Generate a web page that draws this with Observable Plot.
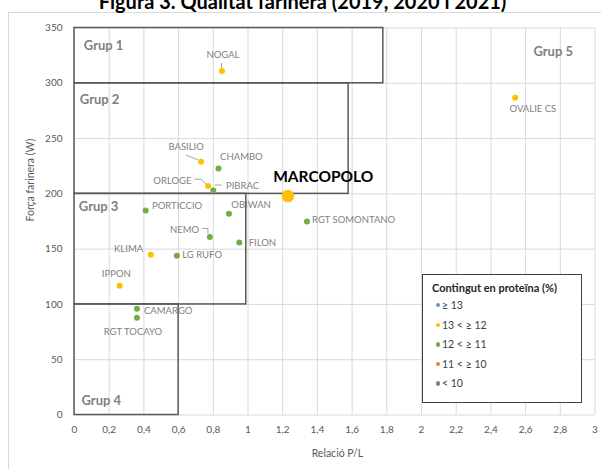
<!DOCTYPE html>
<html>
<head>
<meta charset="utf-8">
<script src="https://cdn.jsdelivr.net/npm/d3@7"></script>
<script src="https://cdn.jsdelivr.net/npm/@observablehq/plot@0.6"></script>
<style>
  html, body { margin: 0; padding: 0; background: #fff; }
  #wrap { position: relative; width: 601px; height: 469px; overflow: hidden; font-family: Lato, "Open Sans", sans-serif; }
  #frame { position: absolute; left: 8px; top: 12px; right: -2px; bottom: -2px; border-left: 1px solid #d9d9d9; border-top: 1px solid #d9d9d9; }
  #title { position: absolute; left: 2px; width: 601px; top: -9.5px; text-align: center; font-size: 20px; line-height: 20px; font-weight: bold; color: #000; white-space: nowrap; }
  #chart { position: absolute; left: 0; top: 0; }
  #legend { position: absolute; left: 422px; top: 274px; width: 158px; height: 127px; border: 1.5px solid #404040; background: #fff; color: #404040; }
  #legend .lt { position: absolute; left: 9px; top: 6px; font-size: 11px; font-weight: bold; white-space: nowrap; color: #262626; }
  #legend .it { position: absolute; left: 19px; font-size: 10.5px; line-height: 12px; white-space: nowrap; }
  #legend .dot { position: absolute; left: -6.5px; top: 4px; width: 4.4px; height: 4.4px; border-radius: 50%; }
</style>
</head>
<body>
<div id="wrap">
  <div id="frame"></div>
  <div id="chart"></div>
  <div id="title">Figura 3. Qualitat farinera (2019, 2020 i 2021)</div>
  <div id="legend"></div>
</div>
<script>
// ---------- data ----------
const varieties = ["NOGAL", "BASILIO", "CHAMBO", "ORLOGE", "PIBRAC", "MARCOPOLO", "PORTICCIO", "OBIWAN", "RGT SOMONTANO", "NEMO", "FILON", "KLIMA", "LG RUFO", "IPPON", "CAMARGO", "RGT TOCAYO", "OVALIE CS"];
const plValues = [0.85, 0.73, 0.83, 0.77, 0.80, 1.23, 0.41, 0.89, 1.34, 0.78, 0.95, 0.44, 0.59, 0.26, 0.36, 0.36, 2.54];
const wValues = [311, 229, 223, 207, 203, 198, 185, 182, 175, 161, 156, 145, 144, 117, 96, 88, 287];
const proteinOf = ["13 < ≥ 12", "13 < ≥ 12", "12 < ≥ 11", "13 < ≥ 12", "12 < ≥ 11", "13 < ≥ 12", "12 < ≥ 11", "12 < ≥ 11", "12 < ≥ 11", "12 < ≥ 11", "12 < ≥ 11", "13 < ≥ 12", "12 < ≥ 11", "13 < ≥ 12", "12 < ≥ 11", "12 < ≥ 11", "13 < ≥ 12"];
const highlighted = "MARCOPOLO";

const proteinCats = ["≥ 13", "13 < ≥ 12", "12 < ≥ 11", "11 < ≥ 10", "< 10"];
const proteinColors = ["#5B9BD5", "#FFC000", "#70AD47", "#ED7D31", "#808080"];

const groupNames = ["Grup 1", "Grup 2", "Grup 3", "Grup 4"];
const groupX1 = [0, 0, 0, 0];
const groupX2 = [1.78, 1.58, 0.99, 0.6];
const groupY1 = [300, 200, 100, 0];
const groupY2 = [350, 300, 200, 100];
const extraGroup = "Grup 5";

const xTicks = [0, 0.2, 0.4, 0.6, 0.8, 1, 1.2, 1.4, 1.6, 1.8, 2, 2.2, 2.4, 2.6, 2.8, 3];
const xTickLabels = ["0", "0,2", "0,4", "0,6", "0,8", "1", "1,2", "1,4", "1,6", "1,8", "2", "2,2", "2,4", "2,6", "2,8", "3"];
const yTicks = [0, 50, 100, 150, 200, 250, 300, 350];
const yTickLabels = ["0", "50", "100", "150", "200", "250", "300", "350"];
const xTitle = "Relació P/L";
const yTitle = "Força farinera (W)";
const legendTitle = "Contingut en proteïna (%)";

// ---------- layout (pixel offsets of labels / leader lines) ----------
const labelLayout = {
  "NOGAL": [1, -16, "middle"],
  "BASILIO": [-15, -14.6, "middle"],
  "CHAMBO": [1.6, -11.6, "start"],
  "ORLOGE": [-16.6, -5.4, "end"],
  "PIBRAC": [12.7, -4.4, "start"],
  "MARCOPOLO": [-14.7, -18.6, "start"],
  "PORTICCIO": [6.4, -4, "start"],
  "OBIWAN": [2.4, -8.7, "start"],
  "RGT SOMONTANO": [5, -1.3, "start"],
  "NEMO": [-10.7, -6.7, "end"],
  "FILON": [9.3, 0.4, "start"],
  "KLIMA": [-7.7, -5.7, "end"],
  "LG RUFO": [5.4, -0.7, "start"],
  "IPPON": [-3.3, -12, "middle"],
  "CAMARGO": [7, 1.7, "start"],
  "RGT TOCAYO": [-4, 14.3, "middle"],
  "OVALIE CS": [17.7, 11.6, "middle"]
};
const leaderLayout = {
  "NOGAL": [[0, -7.5], [0, -2.5]],
  "BASILIO": [[-14.6, -6.3], [-2.5, -1.3]],
  "ORLOGE": [[-13.3, -6.4], [-6.6, -6.4], [-1, -1]],
  "PIBRAC": [[2, -5], [8.7, -5]],
  "NEMO": [[-7, -8], [-1.4, -8], [-1.4, -2.5]]
};
const groupLayout = [[9.3, 17.5], [5.3, 16.2], [4.3, 12.6], [7, -14.5]];

// ---------- build ----------
const points = varieties.map((name, i) => ({name, pl: plValues[i], w: wValues[i], protein: proteinOf[i]}));
const groups = groupNames.map((name, i) => ({name, x1: groupX1[i], x2: groupX2[i], y1: groupY1[i], y2: groupY2[i]}));
const fmtX = d => xTickLabels[xTicks.findIndex(t => Math.abs(t - d) < 1e-9)] ?? String(d);
const fmtY = d => yTickLabels[yTicks.indexOf(d)] ?? String(d);

const labelMarks = points.map(p => {
  const [dx, dy, anchor] = labelLayout[p.name];
  const hi = p.name === highlighted;
  return Plot.text([p], {
    x: "pl", y: "w", text: "name", dx, dy, textAnchor: anchor,
    fill: hi ? "#000" : "#7f7f7f",
    fontSize: hi ? 15.5 : 9.5,
    fontWeight: hi ? "bold" : "normal"
  });
});

const groupLabelMarks = groups.map((g, i) => {
  const [dx, dy] = groupLayout[i];
  return Plot.text([g], {
    x: "x1", y: dy < 0 ? "y1" : "y2", text: "name", dx, dy, textAnchor: "start",
    fill: "#7f7f7f", fontSize: 13, fontWeight: "bold"
  });
});

const leaders = (index, scales) => {
  const g = d3.create("svg:g").attr("fill", "none").attr("stroke", "#a6a6a6").attr("stroke-width", 1);
  points.forEach(p => {
    const segs = leaderLayout[p.name];
    if (!segs) return;
    const x0 = scales.x(p.pl), y0 = scales.y(p.w);
    g.append("path").attr("d", "M" + segs.map(([dx, dy]) => (x0 + dx) + "," + (y0 + dy)).join("L"));
  });
  return g.node();
};

const chart = Plot.plot({
  width: 601,
  height: 469,
  marginLeft: 74,
  marginRight: 6.5,
  marginTop: 27.5,
  marginBottom: 54.5,
  style: {fontFamily: "Lato, 'Open Sans', sans-serif", fontSize: "10px", color: "#595959", background: "transparent"},
  x: {domain: [0, 3], ticks: xTicks, tickFormat: fmtX, tickSize: 0, tickPadding: 11, label: null},
  y: {domain: [0, 350], ticks: yTicks, tickFormat: fmtY, tickSize: 0, tickPadding: 12, label: null},
  color: {domain: proteinCats, range: proteinColors},
  marks: [
    Plot.ruleX(xTicks, {stroke: "#d9d9d9", strokeWidth: 1}),
    Plot.ruleY(yTicks, {stroke: "#d9d9d9", strokeWidth: 1}),
    Plot.rect(groups, {x1: "x1", x2: "x2", y1: "y1", y2: "y2", fill: "none", stroke: "#595959", strokeWidth: 1.5}),
    ...groupLabelMarks,
    Plot.text([extraGroup], {frameAnchor: "top-right", text: d => d, dx: -22, dy: 18.5, textAnchor: "end", fill: "#7f7f7f", fontSize: 13, fontWeight: "bold"}),
    leaders,
    Plot.dot(points.filter(p => p.name !== highlighted), {x: "pl", y: "w", r: 3, fill: "protein"}),
    Plot.dot(points.filter(p => p.name === highlighted), {x: "pl", y: "w", r: 6.3, fill: "protein"}),
    ...labelMarks,
    Plot.text([xTitle], {frameAnchor: "bottom", text: d => d, dx: 2.7, dy: 42, fill: "#595959", fontSize: 10.5}),
    Plot.text([yTitle], {frameAnchor: "left", text: d => d, dx: -44, rotate: -90, fill: "#595959", fontSize: 10.5})
  ]
});
document.getElementById("chart").appendChild(chart);

// legend
const legend = document.getElementById("legend");
const lt = document.createElement("div");
lt.className = "lt";
lt.textContent = legendTitle;
legend.appendChild(lt);
proteinCats.forEach((c, i) => {
  const it = document.createElement("div");
  it.className = "it";
  it.style.top = (24 + i * 19.6) + "px";
  const dot = document.createElement("span");
  dot.className = "dot";
  dot.style.background = proteinColors[i];
  it.appendChild(dot);
  it.appendChild(document.createTextNode(c));
  legend.appendChild(it);
});
</script>
</body>
</html>
